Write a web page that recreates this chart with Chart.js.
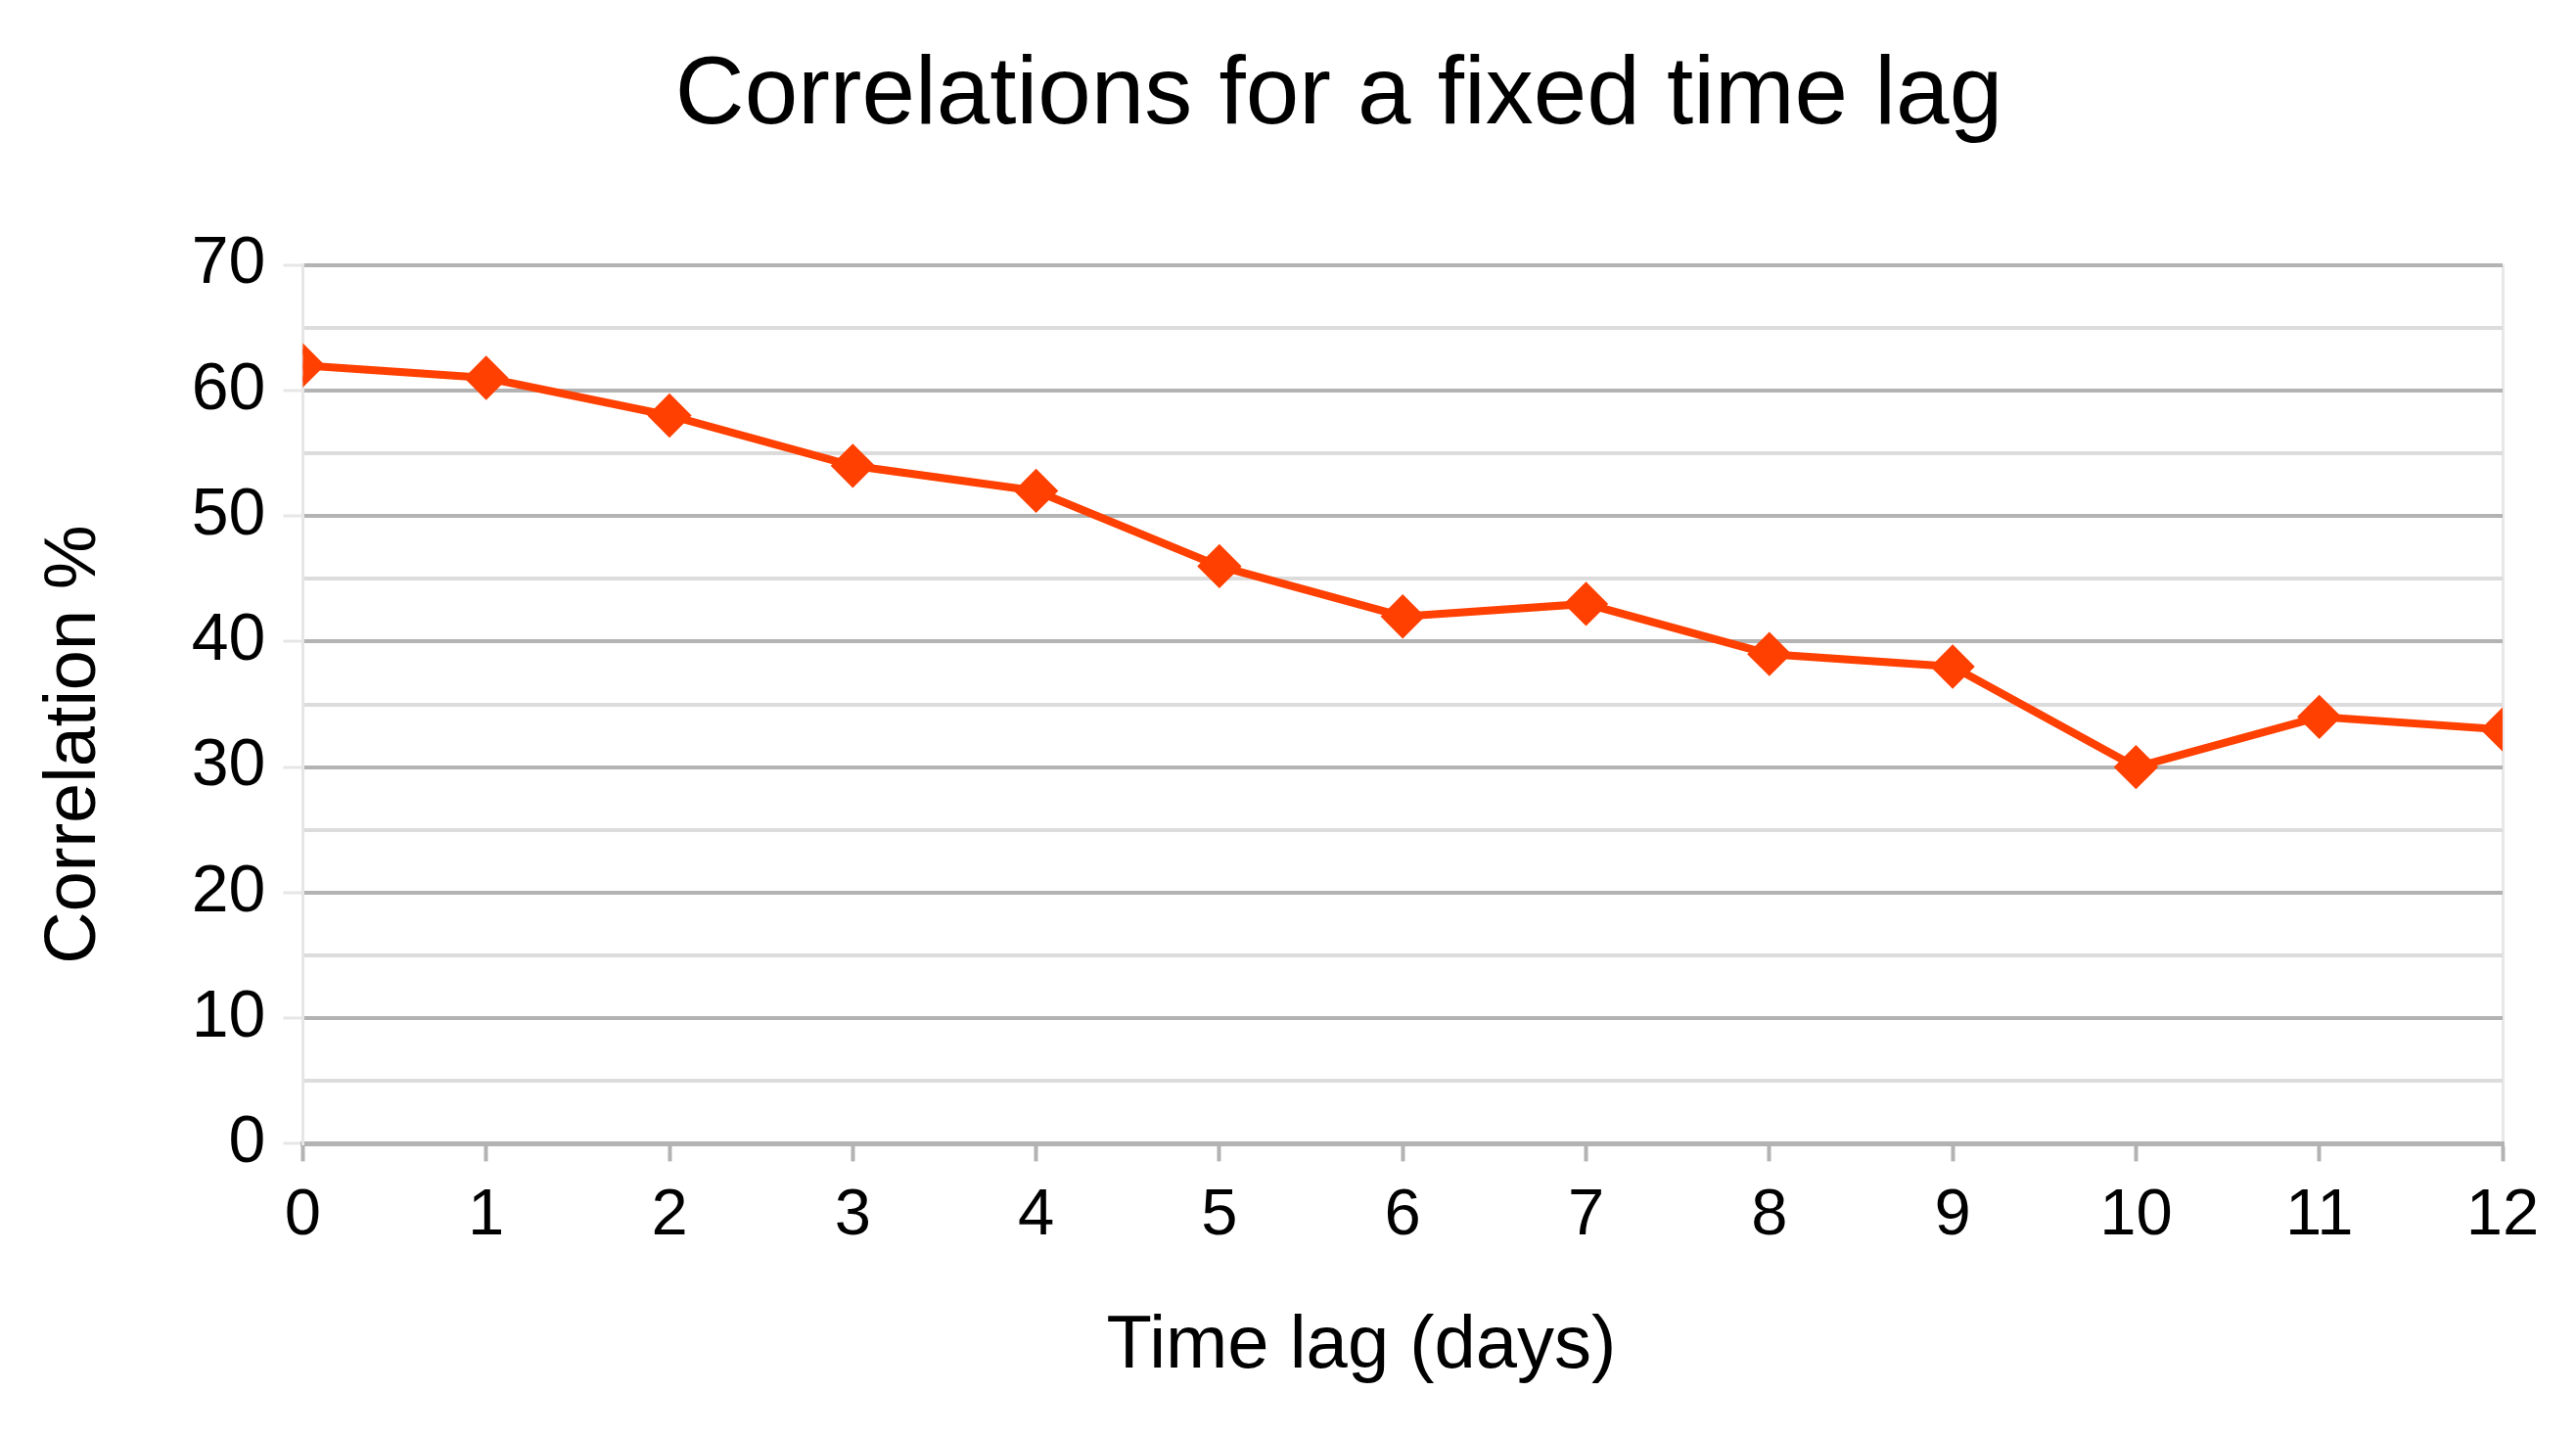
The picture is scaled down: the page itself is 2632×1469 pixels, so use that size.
<!DOCTYPE html>
<html>
<head>
<meta charset="utf-8">
<script src="https://cdn.jsdelivr.net/npm/chart.js@4"></script>
<style>
  html, body { margin: 0; padding: 0; background: #fff; }
  #wrap { width: 2632px; height: 1469px; }
</style>
</head>
<body>
<div id="wrap"><canvas id="chart"></canvas></div>
<script>
var lags = [0, 1, 2, 3, 4, 5, 6, 7, 8, 9, 10, 11, 12];
var correlation = [62, 61, 58, 54, 52, 46, 42, 43, 39, 38, 30, 34, 33];
var yMin = 0, yMax = 70, yStep = 5;

var font = "'Liberation Sans', Arial, sans-serif";
var nb = '\u00a0\u00a0\u00a0\u00a0'; // trailing spaces nudge the axis titles off-centre like the original
var points = lags.map(function(x, i) { return { x: x, y: correlation[i] }; });

var ctx = document.getElementById('chart').getContext('2d');
var chart = new Chart(ctx, {
  type: 'line',
  data: {
    datasets: [{
      data: points,
      borderColor: '#ff4000',
      backgroundColor: '#ff4000',
      borderWidth: 8,
      pointStyle: 'rectRot',
      pointRadius: 17,
      pointHoverRadius: 17,
      tension: 0
    }]
  },
  options: {
    responsive: true,
    maintainAspectRatio: false,
    animation: false,
    // left padding is large so the title sits right of centre, like the original
    layout: { padding: { left: 179, right: 75, top: 10, bottom: 47 } },
    plugins: {
      legend: { display: false },
      tooltip: { enabled: false },
      title: {
        display: true,
        text: 'Correlations for a fixed time lag',
        color: '#000',
        font: { family: font, size: 98, weight: 'normal' },
        padding: { top: 30, bottom: 113 }
      }
    },
    scales: {
      x: {
        type: 'linear',
        min: 0,
        max: 12,
        ticks: {
          stepSize: 1,
          autoSkip: false,
          maxRotation: 0,
          color: '#000',
          font: { family: font, size: 67 },
          padding: 16
        },
        grid: {
          color: function(c) {
            return (c.tick && (c.tick.value === 0 || c.tick.value === 12)) ? '#e8e8e8' : 'rgba(0,0,0,0)';
          },
          lineWidth: 3,
          tickColor: '#b3b3b3',
          tickWidth: 4,
          tickLength: 18
        },
        border: { color: '#b3b3b3', width: 5 },
        title: {
          display: true,
          text: 'Time lag (days)' + nb,
          color: '#000',
          font: { family: font, size: 76 },
          padding: { top: 32, bottom: 0 }
        }
      },
      y: {
        min: yMin,
        max: yMax,
        ticks: {
          stepSize: yStep,
          autoSkip: false,
          color: '#000',
          font: { family: font, size: 68 },
          padding: 18,
          callback: function(v) { return v % 10 === 0 ? v : ''; }
        },
        grid: {
          color: function(c) {
            if (!c.tick) return 'rgba(0,0,0,0)';
            return c.tick.value % 10 === 0 ? '#b3b3b3' : '#dcdcdc';
          },
          lineWidth: 4,
          tickColor: function(c) {
            return (c.tick && c.tick.value % 10 === 0) ? '#e6e6e6' : 'rgba(0,0,0,0)';
          },
          tickWidth: 3,
          tickLength: 20
        },
        border: { color: '#e6e6e6', width: 3 },
        title: {
          display: true,
          text: 'Correlation %' + nb,
          color: '#000',
          font: { family: font, size: 74 },
          padding: { top: -147, bottom: 57 }
        }
      }
    }
  }
});
</script>
</body>
</html>
